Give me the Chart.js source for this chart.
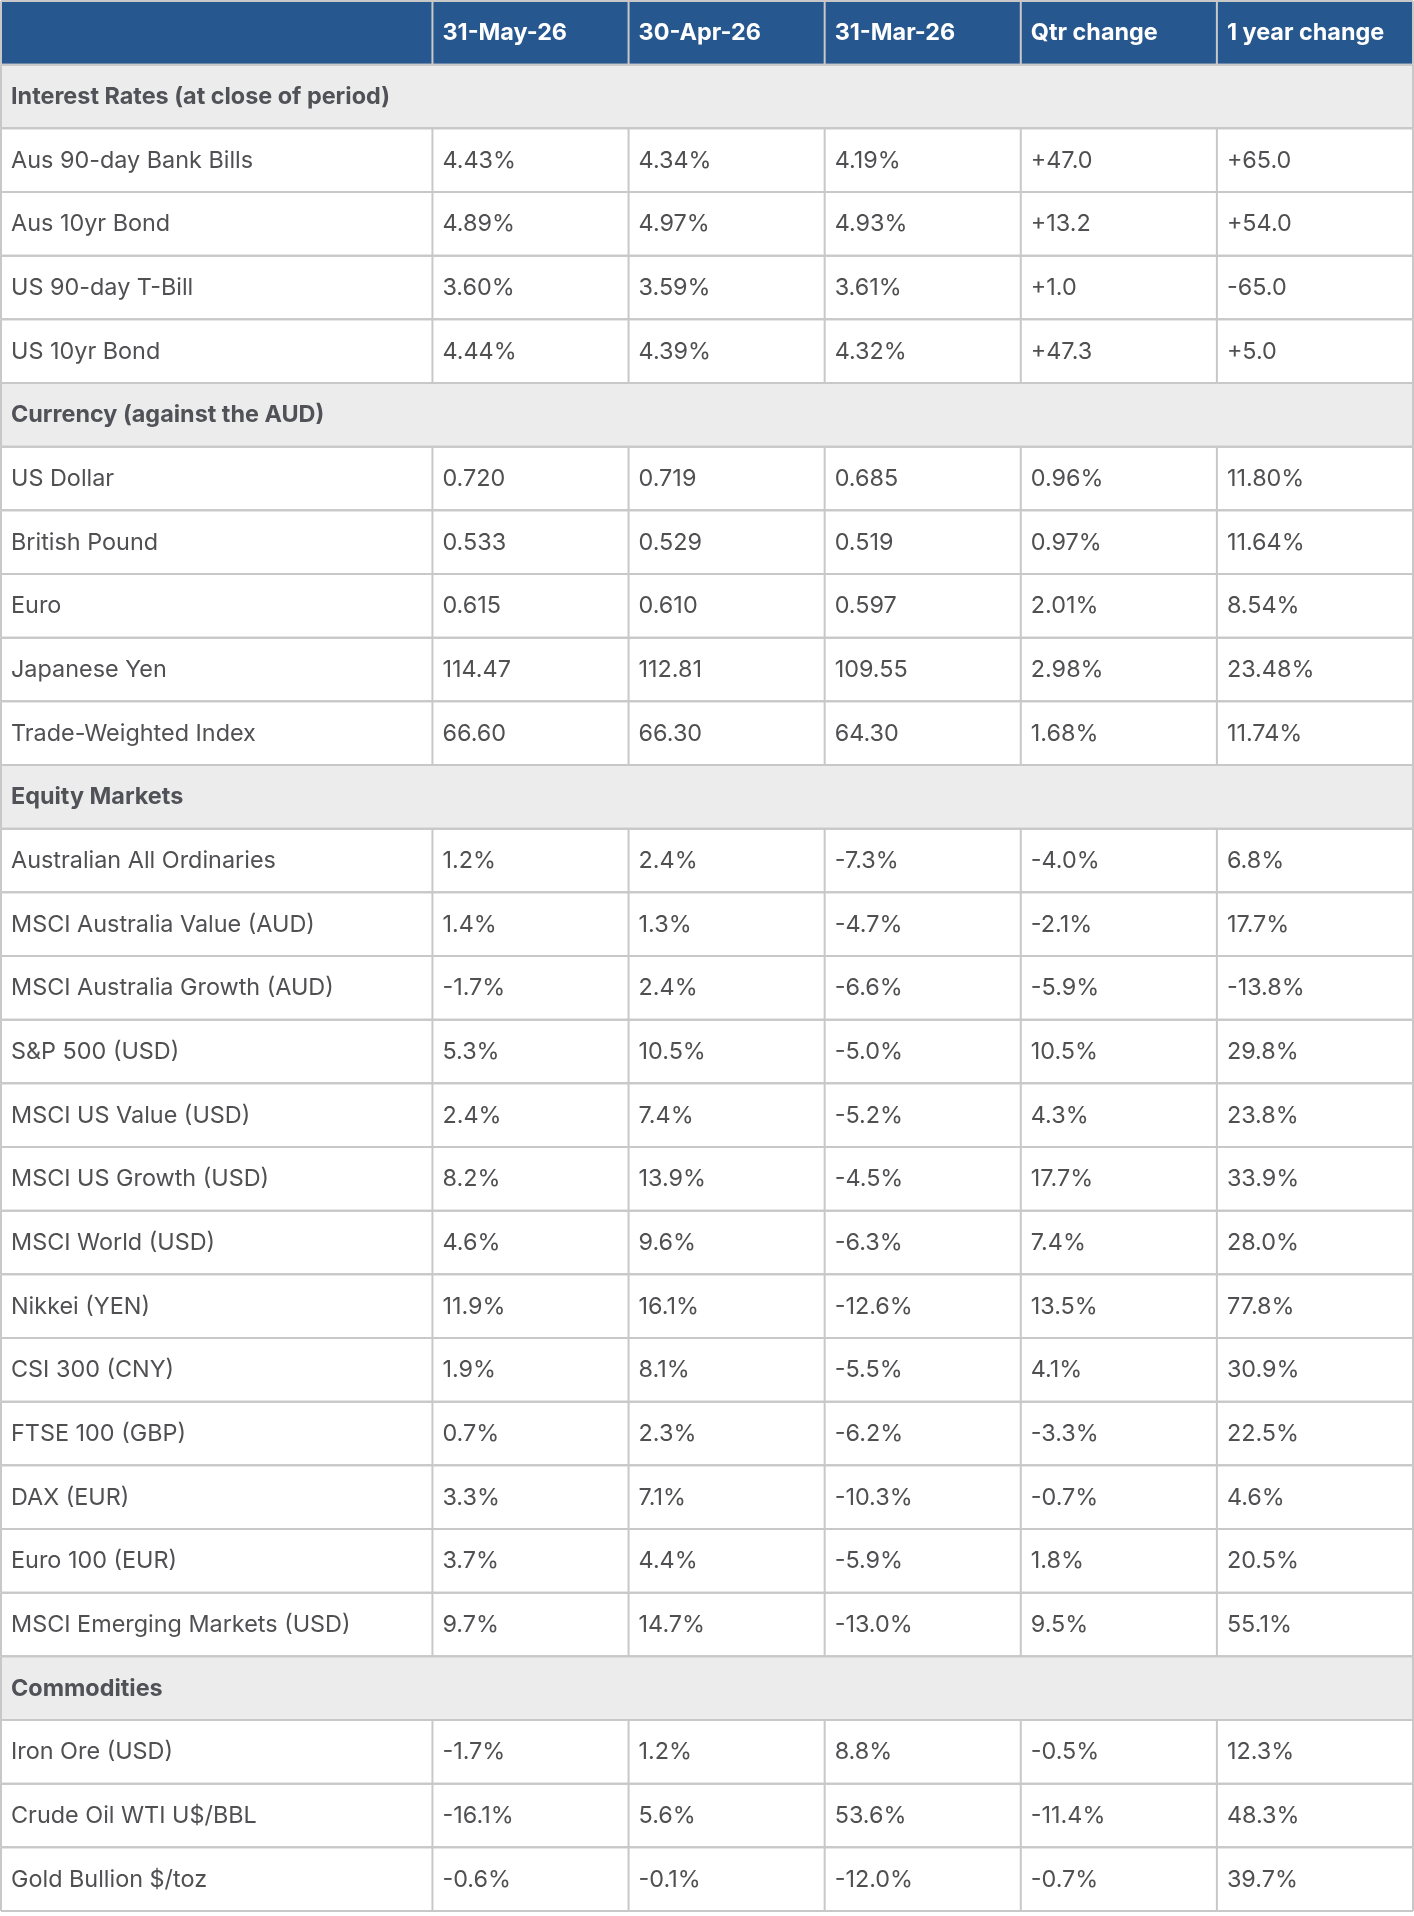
<!DOCTYPE html>
<html>
<head>
<meta charset="utf-8">
<title>Market summary table</title>
<script src="https://cdn.jsdelivr.net/npm/chart.js@4.4.1/dist/chart.umd.min.js"></script>
<style>
  html, body { margin: 0; padding: 0; background: #fff; }
  #wrap { position: relative; width: 1414px; height: 1916px; }
</style>
</head>
<body>
<div id="wrap"><canvas id="table"></canvas></div>
<script>
// column headings
const columns = ['31-May-26', '30-Apr-26', '31-Mar-26', 'Qtr change', '1 year change']

// section titles
const sections = [
  'Interest Rates (at close of period)',
  'Currency (against the AUD)',
  'Equity Markets',
  'Commodities'
]

// Interest rates
const rateRows = ['Aus 90-day Bank Bills', 'Aus 10yr Bond', 'US 90-day T-Bill', 'US 10yr Bond']
const rateValues = [
  ['4.43%', '4.34%', '4.19%', '+47.0', '+65.0'],
  ['4.89%', '4.97%', '4.93%', '+13.2', '+54.0'],
  ['3.60%', '3.59%', '3.61%', '+1.0', '-65.0'],
  ['4.44%', '4.39%', '4.32%', '+47.3', '+5.0']
]

// Currency
const currencyRows = ['US Dollar', 'British Pound', 'Euro', 'Japanese Yen', 'Trade-Weighted Index']
const currencyValues = [
  ['0.720', '0.719', '0.685', '0.96%', '11.80%'],
  ['0.533', '0.529', '0.519', '0.97%', '11.64%'],
  ['0.615', '0.610', '0.597', '2.01%', '8.54%'],
  ['114.47', '112.81', '109.55', '2.98%', '23.48%'],
  ['66.60', '66.30', '64.30', '1.68%', '11.74%']
]

// Equity markets
const equityRows = [
  'Australian All Ordinaries', 'MSCI Australia Value (AUD)', 'MSCI Australia Growth (AUD)',
  'S&P 500 (USD)', 'MSCI US Value (USD)', 'MSCI US Growth (USD)', 'MSCI World (USD)',
  'Nikkei (YEN)', 'CSI 300 (CNY)', 'FTSE 100 (GBP)', 'DAX (EUR)', 'Euro 100 (EUR)',
  'MSCI Emerging Markets (USD)'
]
const equityValues = [
  ['1.2%', '2.4%', '-7.3%', '-4.0%', '6.8%'],
  ['1.4%', '1.3%', '-4.7%', '-2.1%', '17.7%'],
  ['-1.7%', '2.4%', '-6.6%', '-5.9%', '-13.8%'],
  ['5.3%', '10.5%', '-5.0%', '10.5%', '29.8%'],
  ['2.4%', '7.4%', '-5.2%', '4.3%', '23.8%'],
  ['8.2%', '13.9%', '-4.5%', '17.7%', '33.9%'],
  ['4.6%', '9.6%', '-6.3%', '7.4%', '28.0%'],
  ['11.9%', '16.1%', '-12.6%', '13.5%', '77.8%'],
  ['1.9%', '8.1%', '-5.5%', '4.1%', '30.9%'],
  ['0.7%', '2.3%', '-6.2%', '-3.3%', '22.5%'],
  ['3.3%', '7.1%', '-10.3%', '-0.7%', '4.6%'],
  ['3.7%', '4.4%', '-5.9%', '1.8%', '20.5%'],
  ['9.7%', '14.7%', '-13.0%', '9.5%', '55.1%']
]

// Commodities
const commodityRows = ['Iron Ore (USD)', 'Crude Oil WTI U$/BBL', 'Gold Bullion $/toz']
const commodityValues = [
  ['-1.7%', '1.2%', '8.8%', '-0.5%', '12.3%'],
  ['-16.1%', '5.6%', '53.6%', '-11.4%', '48.3%'],
  ['-0.6%', '-0.1%', '-12.0%', '-0.7%', '39.7%']
]

// ---- layout (x units: label column is 2.2 wide, each value column 1 wide) ----
const LABEL_W = 2.2
const colEdges = [0, LABEL_W]
columns.forEach((c, i) => colEdges.push(LABEL_W + i + 1))
const X_MAX = colEdges[colEdges.length - 1]

const COLORS = {
  header: '#27578f',
  section: '#ececec',
  body: '#ffffff',
  border: '#c8c8c8',
  text: '#505053',
  sectionText: '#505257',
  headerText: '#ffffff'
}
const FONT = 'Inter, "Noto Sans", sans-serif'

// flatten into table rows
const rows = [{ kind: 'header', cells: [''].concat(columns) }]
const groups = [
  [rateRows, rateValues], [currencyRows, currencyValues],
  [equityRows, equityValues], [commodityRows, commodityValues]
]
groups.forEach(([labels, values], s) => {
  rows.push({ kind: 'section', cells: [sections[s]] })
  labels.forEach((l, i) => rows.push({ kind: 'body', cells: [l].concat(values[i]) }))
})

const tablePlugin = {
  id: 'tableCells',
  afterDatasetsDraw (chart) {
    const { ctx, scales: { x, y } } = chart
    const band = Math.abs(y.getPixelForValue(1) - y.getPixelForValue(0))
    const left = x.getPixelForValue(0)
    const right = x.getPixelForValue(X_MAX)
    ctx.save()
    ctx.lineWidth = 2
    ctx.strokeStyle = COLORS.border

    rows.forEach((row, i) => {
      const mid = y.getPixelForValue(i)
      const top = mid - band / 2
      const bottom = mid + band / 2

      // horizontal rules
      ctx.beginPath()
      ctx.moveTo(left, top); ctx.lineTo(right, top)
      ctx.moveTo(left, bottom); ctx.lineTo(right, bottom)
      // vertical rules (section rows span the full width)
      const edges = row.kind === 'section' ? [0, X_MAX] : colEdges
      edges.forEach(e => {
        const px = x.getPixelForValue(e)
        ctx.moveTo(px, top); ctx.lineTo(px, bottom)
      })
      ctx.stroke()

      // text
      const bold = row.kind !== 'body'
      ctx.font = (bold ? '700 ' : '400 ') + '23.4px ' + FONT
      ctx.fillStyle = row.kind === 'header' ? COLORS.headerText
        : row.kind === 'section' ? COLORS.sectionText : COLORS.text
      ctx.textAlign = 'left'
      ctx.textBaseline = 'alphabetic'
      row.cells.forEach((t, c) => {
        if (!t) return
        ctx.fillText(t, x.getPixelForValue(colEdges[c]) + 10, mid + 7.5)
      })
    })
    ctx.restore()
  }
}

function draw () {
  new Chart(document.getElementById('table'), {
    type: 'bar',
    data: {
      labels: rows.map((r, i) => 'r' + i),
      datasets: [{
        data: rows.map(() => [0, X_MAX]),
        backgroundColor: rows.map(r => COLORS[r.kind]),
        borderWidth: 0,
        barPercentage: 1,
        categoryPercentage: 1
      }]
    },
    options: {
      indexAxis: 'y',
      responsive: true,
      maintainAspectRatio: false,
      animation: false,
      layout: { padding: { top: 1, bottom: 5, left: 1, right: 1 } },
      scales: {
        x: { type: 'linear', min: 0, max: X_MAX, display: false },
        y: { type: 'category', display: false, offset: true }
      },
      plugins: { legend: { display: false }, tooltip: { enabled: false } }
    },
    plugins: [tablePlugin]
  })
}

if (document.fonts && document.fonts.load) {
  Promise.all([document.fonts.load('400 23.4px Inter'), document.fonts.load('700 23.4px Inter')])
    .then(draw, draw)
} else {
  draw()
}
</script>
</body>
</html>
